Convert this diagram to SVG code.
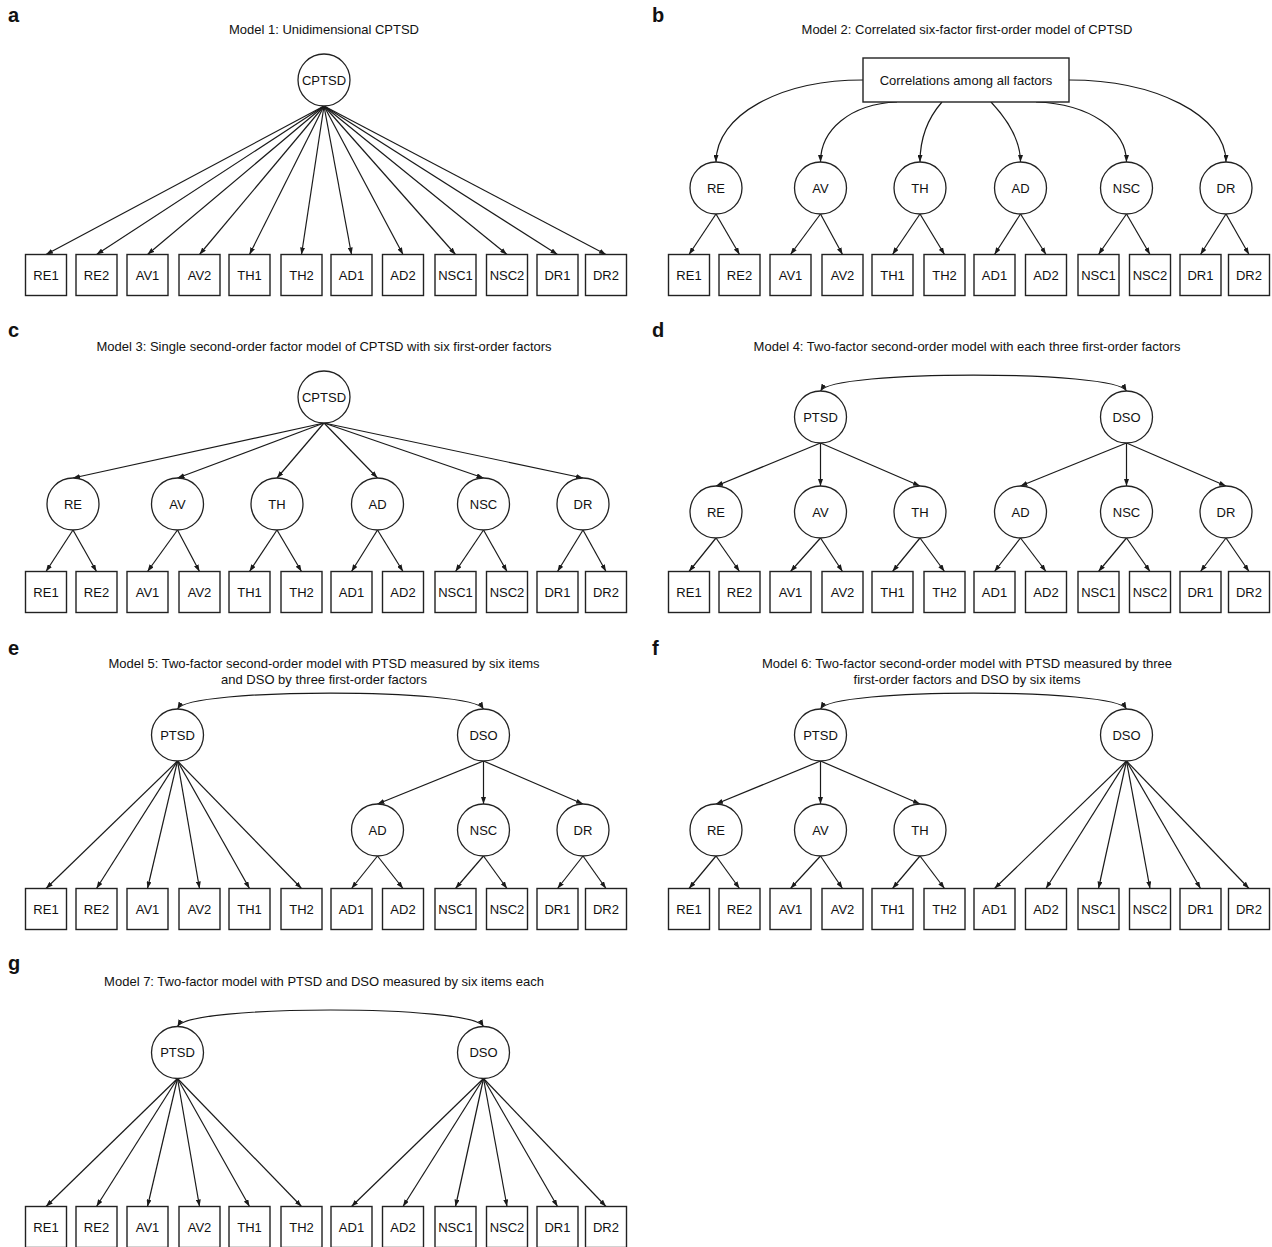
<svg xmlns="http://www.w3.org/2000/svg" width="1272" height="1247" viewBox="0 0 1272 1247">
<style>
.t{font-family:"Liberation Sans",Arial,sans-serif;font-size:13px;fill:#111;text-anchor:middle}
.lab{font-family:"Liberation Sans",Arial,sans-serif;font-size:20px;font-weight:bold;fill:#111}
.bx{fill:#fff;stroke:#222;stroke-width:1.4}
.lv{fill:#fff;stroke:#222;stroke-width:1.3}
.c{fill:none;stroke:#1a1a1a;stroke-width:1.2;marker-end:url(#ah)}
.cv{fill:none;stroke:#1a1a1a;stroke-width:1.2;marker-start:url(#ah);marker-end:url(#ah)}
</style>
<defs>
<marker id="ah" viewBox="0 0 7 5" refX="7" refY="2.5" markerWidth="7" markerHeight="5" markerUnits="userSpaceOnUse" orient="auto-start-reverse"><path d="M0,0 L7,2.5 L0,5 z" fill="#1a1a1a"/></marker>
</defs>
<rect width="1272" height="1247" fill="#fff"/>

<g id="labels">
<text class="lab" x="8" y="22">a</text>
<text class="lab" x="652" y="22">b</text>
<text class="lab" x="8" y="337">c</text>
<text class="lab" x="652" y="337">d</text>
<text class="lab" x="8" y="655">e</text>
<text class="lab" x="652" y="655">f</text>
<text class="lab" x="8" y="970">g</text>
</g>
<g id="titles">
<text class="t" x="324" y="34">Model 1: Unidimensional CPTSD</text>
<text class="t" x="967" y="34">Model 2: Correlated six-factor first-order model of CPTSD</text>
<text class="t" x="324" y="350.6">Model 3: Single second-order factor model of CPTSD with six first-order factors</text>
<text class="t" x="967" y="350.6">Model 4: Two-factor second-order model with each three first-order factors</text>
<text class="t" x="324" y="668">Model 5: Two-factor second-order model with PTSD measured by six items</text>
<text class="t" x="324" y="684">and DSO by three first-order factors</text>
<text class="t" x="967" y="668">Model 6: Two-factor second-order model with PTSD measured by three</text>
<text class="t" x="967" y="684">first-order factors and DSO by six items</text>
<text class="t" x="324" y="985.6">Model 7: Two-factor model with PTSD and DSO measured by six items each</text>
</g>

<g id="connectors">
<!-- a -->
<path class="c" d="M324,106 L46,254.5"/><path class="c" d="M324,106 L96.5,254.5"/><path class="c" d="M324,106 L147.5,254.5"/><path class="c" d="M324,106 L199.5,254.5"/><path class="c" d="M324,106 L249.5,254.5"/><path class="c" d="M324,106 L301.5,254.5"/><path class="c" d="M324,106 L351.5,254.5"/><path class="c" d="M324,106 L403,254.5"/><path class="c" d="M324,106 L455.5,254.5"/><path class="c" d="M324,106 L507,254.5"/><path class="c" d="M324,106 L557.5,254.5"/><path class="c" d="M324,106 L606,254.5"/>
<!-- b -->
<path class="c" d="M863,80 C780,80 716,115 716,162"/>
<path class="c" d="M897,102 C850,104 820.5,130 820.5,162"/>
<path class="c" d="M942,102 C928,118 920,138 920,162"/>
<path class="c" d="M991,102 C1006,118 1020.5,138 1020.5,162"/>
<path class="c" d="M1036,102 C1090,104 1126.5,130 1126.5,162"/>
<path class="c" d="M1069,80 C1155,80 1226,115 1226,162"/>
<path class="c" d="M716,214 L689,254.5"/><path class="c" d="M716,214 L739.5,254.5"/>
<path class="c" d="M820.5,214 L790.5,254.5"/><path class="c" d="M820.5,214 L842.5,254.5"/>
<path class="c" d="M920,214 L892.5,254.5"/><path class="c" d="M920,214 L944.5,254.5"/>
<path class="c" d="M1020.5,214 L994.5,254.5"/><path class="c" d="M1020.5,214 L1046,254.5"/>
<path class="c" d="M1126.5,214 L1098.5,254.5"/><path class="c" d="M1126.5,214 L1150,254.5"/>
<path class="c" d="M1226,214 L1200.5,254.5"/><path class="c" d="M1226,214 L1249,254.5"/>
<!-- c -->
<path class="c" d="M324,423 L73,478"/><path class="c" d="M324,423 L177.5,478"/><path class="c" d="M324,423 L277,478"/><path class="c" d="M324,423 L377.5,478"/><path class="c" d="M324,423 L483.5,478"/><path class="c" d="M324,423 L583,478"/>
<path class="c" d="M73,530 L46,571.5"/><path class="c" d="M73,530 L96.5,571.5"/>
<path class="c" d="M177.5,530 L147.5,571.5"/><path class="c" d="M177.5,530 L199.5,571.5"/>
<path class="c" d="M277,530 L249.5,571.5"/><path class="c" d="M277,530 L301.5,571.5"/>
<path class="c" d="M377.5,530 L351.5,571.5"/><path class="c" d="M377.5,530 L403,571.5"/>
<path class="c" d="M483.5,530 L455.5,571.5"/><path class="c" d="M483.5,530 L507,571.5"/>
<path class="c" d="M583,530 L557.5,571.5"/><path class="c" d="M583,530 L606,571.5"/>
<!-- d -->
<path class="cv" d="M820.5,391 C832,369.7 1115,369.7 1126.5,391"/>
<path class="c" d="M820.5,443 L716,486"/><path class="c" d="M820.5,443 L820.5,486"/><path class="c" d="M820.5,443 L920,486"/>
<path class="c" d="M1126.5,443 L1020.5,486"/><path class="c" d="M1126.5,443 L1126.5,486"/><path class="c" d="M1126.5,443 L1226,486"/>
<path class="c" d="M716,538 L689,571.5"/><path class="c" d="M716,538 L739.5,571.5"/>
<path class="c" d="M820.5,538 L790.5,571.5"/><path class="c" d="M820.5,538 L842.5,571.5"/>
<path class="c" d="M920,538 L892.5,571.5"/><path class="c" d="M920,538 L944.5,571.5"/>
<path class="c" d="M1020.5,538 L994.5,571.5"/><path class="c" d="M1020.5,538 L1046,571.5"/>
<path class="c" d="M1126.5,538 L1098.5,571.5"/><path class="c" d="M1126.5,538 L1150,571.5"/>
<path class="c" d="M1226,538 L1200.5,571.5"/><path class="c" d="M1226,538 L1249,571.5"/>
<!-- e -->
<path class="cv" d="M177.5,709 C189,687.7 472,687.7 483.5,709"/>
<path class="c" d="M177.5,761 L46,888.5"/><path class="c" d="M177.5,761 L96.5,888.5"/><path class="c" d="M177.5,761 L147.5,888.5"/><path class="c" d="M177.5,761 L199.5,888.5"/><path class="c" d="M177.5,761 L249.5,888.5"/><path class="c" d="M177.5,761 L301.5,888.5"/>
<path class="c" d="M483.5,761 L377.5,804"/><path class="c" d="M483.5,761 L483.5,804"/><path class="c" d="M483.5,761 L583,804"/>
<path class="c" d="M377.5,856 L351.5,888.5"/><path class="c" d="M377.5,856 L403,888.5"/>
<path class="c" d="M483.5,856 L455.5,888.5"/><path class="c" d="M483.5,856 L507,888.5"/>
<path class="c" d="M583,856 L557.5,888.5"/><path class="c" d="M583,856 L606,888.5"/>
<!-- f -->
<path class="cv" d="M820.5,709 C832,687.7 1115,687.7 1126.5,709"/>
<path class="c" d="M820.5,761 L716,804"/><path class="c" d="M820.5,761 L820.5,804"/><path class="c" d="M820.5,761 L920,804"/>
<path class="c" d="M716,856 L689,888.5"/><path class="c" d="M716,856 L739.5,888.5"/>
<path class="c" d="M820.5,856 L790.5,888.5"/><path class="c" d="M820.5,856 L842.5,888.5"/>
<path class="c" d="M920,856 L892.5,888.5"/><path class="c" d="M920,856 L944.5,888.5"/>
<path class="c" d="M1126.5,761 L994.5,888.5"/><path class="c" d="M1126.5,761 L1046,888.5"/><path class="c" d="M1126.5,761 L1098.5,888.5"/><path class="c" d="M1126.5,761 L1150,888.5"/><path class="c" d="M1126.5,761 L1200.5,888.5"/><path class="c" d="M1126.5,761 L1249,888.5"/>
<!-- g -->
<path class="cv" d="M177.5,1026.5 C189,1004.5 472,1004.5 483.5,1026.5"/>
<path class="c" d="M177.5,1078.5 L46,1206.5"/><path class="c" d="M177.5,1078.5 L96.5,1206.5"/><path class="c" d="M177.5,1078.5 L147.5,1206.5"/><path class="c" d="M177.5,1078.5 L199.5,1206.5"/><path class="c" d="M177.5,1078.5 L249.5,1206.5"/><path class="c" d="M177.5,1078.5 L301.5,1206.5"/>
<path class="c" d="M483.5,1078.5 L351.5,1206.5"/><path class="c" d="M483.5,1078.5 L403,1206.5"/><path class="c" d="M483.5,1078.5 L455.5,1206.5"/><path class="c" d="M483.5,1078.5 L507,1206.5"/><path class="c" d="M483.5,1078.5 L557.5,1206.5"/><path class="c" d="M483.5,1078.5 L606,1206.5"/>
</g>

<!-- Panel a -->
<g id="a-CPTSD"><circle class="lv" cx="324" cy="80" r="26"/><text class="t" x="324" y="84.6">CPTSD</text></g>
<g id="a-RE1"><rect class="bx" x="25.5" y="254.5" width="41" height="41"/><text class="t" x="46" y="279.6">RE1</text></g>
<g id="a-RE2"><rect class="bx" x="76" y="254.5" width="41" height="41"/><text class="t" x="96.5" y="279.6">RE2</text></g>
<g id="a-AV1"><rect class="bx" x="127" y="254.5" width="41" height="41"/><text class="t" x="147.5" y="279.6">AV1</text></g>
<g id="a-AV2"><rect class="bx" x="179" y="254.5" width="41" height="41"/><text class="t" x="199.5" y="279.6">AV2</text></g>
<g id="a-TH1"><rect class="bx" x="229" y="254.5" width="41" height="41"/><text class="t" x="249.5" y="279.6">TH1</text></g>
<g id="a-TH2"><rect class="bx" x="281" y="254.5" width="41" height="41"/><text class="t" x="301.5" y="279.6">TH2</text></g>
<g id="a-AD1"><rect class="bx" x="331" y="254.5" width="41" height="41"/><text class="t" x="351.5" y="279.6">AD1</text></g>
<g id="a-AD2"><rect class="bx" x="382.5" y="254.5" width="41" height="41"/><text class="t" x="403" y="279.6">AD2</text></g>
<g id="a-NSC1"><rect class="bx" x="435" y="254.5" width="41" height="41"/><text class="t" x="455.5" y="279.6">NSC1</text></g>
<g id="a-NSC2"><rect class="bx" x="486.5" y="254.5" width="41" height="41"/><text class="t" x="507" y="279.6">NSC2</text></g>
<g id="a-DR1"><rect class="bx" x="537" y="254.5" width="41" height="41"/><text class="t" x="557.5" y="279.6">DR1</text></g>
<g id="a-DR2"><rect class="bx" x="585.5" y="254.5" width="41" height="41"/><text class="t" x="606" y="279.6">DR2</text></g>

<!-- Panel b -->
<g id="b-CORR"><rect class="bx" x="863" y="58" width="206" height="44"/><text class="t" x="966" y="84.6">Correlations among all factors</text></g>
<g id="b-RE"><circle class="lv" cx="716" cy="188" r="26"/><text class="t" x="716" y="192.6">RE</text></g>
<g id="b-AV"><circle class="lv" cx="820.5" cy="188" r="26"/><text class="t" x="820.5" y="192.6">AV</text></g>
<g id="b-TH"><circle class="lv" cx="920" cy="188" r="26"/><text class="t" x="920" y="192.6">TH</text></g>
<g id="b-AD"><circle class="lv" cx="1020.5" cy="188" r="26"/><text class="t" x="1020.5" y="192.6">AD</text></g>
<g id="b-NSC"><circle class="lv" cx="1126.5" cy="188" r="26"/><text class="t" x="1126.5" y="192.6">NSC</text></g>
<g id="b-DR"><circle class="lv" cx="1226" cy="188" r="26"/><text class="t" x="1226" y="192.6">DR</text></g>
<g id="b-RE1"><rect class="bx" x="668.5" y="254.5" width="41" height="41"/><text class="t" x="689" y="279.6">RE1</text></g>
<g id="b-RE2"><rect class="bx" x="719" y="254.5" width="41" height="41"/><text class="t" x="739.5" y="279.6">RE2</text></g>
<g id="b-AV1"><rect class="bx" x="770" y="254.5" width="41" height="41"/><text class="t" x="790.5" y="279.6">AV1</text></g>
<g id="b-AV2"><rect class="bx" x="822" y="254.5" width="41" height="41"/><text class="t" x="842.5" y="279.6">AV2</text></g>
<g id="b-TH1"><rect class="bx" x="872" y="254.5" width="41" height="41"/><text class="t" x="892.5" y="279.6">TH1</text></g>
<g id="b-TH2"><rect class="bx" x="924" y="254.5" width="41" height="41"/><text class="t" x="944.5" y="279.6">TH2</text></g>
<g id="b-AD1"><rect class="bx" x="974" y="254.5" width="41" height="41"/><text class="t" x="994.5" y="279.6">AD1</text></g>
<g id="b-AD2"><rect class="bx" x="1025.5" y="254.5" width="41" height="41"/><text class="t" x="1046" y="279.6">AD2</text></g>
<g id="b-NSC1"><rect class="bx" x="1078" y="254.5" width="41" height="41"/><text class="t" x="1098.5" y="279.6">NSC1</text></g>
<g id="b-NSC2"><rect class="bx" x="1129.5" y="254.5" width="41" height="41"/><text class="t" x="1150" y="279.6">NSC2</text></g>
<g id="b-DR1"><rect class="bx" x="1180" y="254.5" width="41" height="41"/><text class="t" x="1200.5" y="279.6">DR1</text></g>
<g id="b-DR2"><rect class="bx" x="1228.5" y="254.5" width="41" height="41"/><text class="t" x="1249" y="279.6">DR2</text></g>

<!-- Panel c -->
<g id="c-CPTSD"><circle class="lv" cx="324" cy="397" r="26"/><text class="t" x="324" y="401.6">CPTSD</text></g>
<g id="c-RE"><circle class="lv" cx="73" cy="504" r="26"/><text class="t" x="73" y="508.6">RE</text></g>
<g id="c-AV"><circle class="lv" cx="177.5" cy="504" r="26"/><text class="t" x="177.5" y="508.6">AV</text></g>
<g id="c-TH"><circle class="lv" cx="277" cy="504" r="26"/><text class="t" x="277" y="508.6">TH</text></g>
<g id="c-AD"><circle class="lv" cx="377.5" cy="504" r="26"/><text class="t" x="377.5" y="508.6">AD</text></g>
<g id="c-NSC"><circle class="lv" cx="483.5" cy="504" r="26"/><text class="t" x="483.5" y="508.6">NSC</text></g>
<g id="c-DR"><circle class="lv" cx="583" cy="504" r="26"/><text class="t" x="583" y="508.6">DR</text></g>
<g id="c-RE1"><rect class="bx" x="25.5" y="571.5" width="41" height="41"/><text class="t" x="46" y="596.6">RE1</text></g>
<g id="c-RE2"><rect class="bx" x="76" y="571.5" width="41" height="41"/><text class="t" x="96.5" y="596.6">RE2</text></g>
<g id="c-AV1"><rect class="bx" x="127" y="571.5" width="41" height="41"/><text class="t" x="147.5" y="596.6">AV1</text></g>
<g id="c-AV2"><rect class="bx" x="179" y="571.5" width="41" height="41"/><text class="t" x="199.5" y="596.6">AV2</text></g>
<g id="c-TH1"><rect class="bx" x="229" y="571.5" width="41" height="41"/><text class="t" x="249.5" y="596.6">TH1</text></g>
<g id="c-TH2"><rect class="bx" x="281" y="571.5" width="41" height="41"/><text class="t" x="301.5" y="596.6">TH2</text></g>
<g id="c-AD1"><rect class="bx" x="331" y="571.5" width="41" height="41"/><text class="t" x="351.5" y="596.6">AD1</text></g>
<g id="c-AD2"><rect class="bx" x="382.5" y="571.5" width="41" height="41"/><text class="t" x="403" y="596.6">AD2</text></g>
<g id="c-NSC1"><rect class="bx" x="435" y="571.5" width="41" height="41"/><text class="t" x="455.5" y="596.6">NSC1</text></g>
<g id="c-NSC2"><rect class="bx" x="486.5" y="571.5" width="41" height="41"/><text class="t" x="507" y="596.6">NSC2</text></g>
<g id="c-DR1"><rect class="bx" x="537" y="571.5" width="41" height="41"/><text class="t" x="557.5" y="596.6">DR1</text></g>
<g id="c-DR2"><rect class="bx" x="585.5" y="571.5" width="41" height="41"/><text class="t" x="606" y="596.6">DR2</text></g>

<!-- Panel d -->
<g id="d-PTSD"><circle class="lv" cx="820.5" cy="417" r="26"/><text class="t" x="820.5" y="421.6">PTSD</text></g>
<g id="d-DSO"><circle class="lv" cx="1126.5" cy="417" r="26"/><text class="t" x="1126.5" y="421.6">DSO</text></g>
<g id="d-RE"><circle class="lv" cx="716" cy="512" r="26"/><text class="t" x="716" y="516.6">RE</text></g>
<g id="d-AV"><circle class="lv" cx="820.5" cy="512" r="26"/><text class="t" x="820.5" y="516.6">AV</text></g>
<g id="d-TH"><circle class="lv" cx="920" cy="512" r="26"/><text class="t" x="920" y="516.6">TH</text></g>
<g id="d-AD"><circle class="lv" cx="1020.5" cy="512" r="26"/><text class="t" x="1020.5" y="516.6">AD</text></g>
<g id="d-NSC"><circle class="lv" cx="1126.5" cy="512" r="26"/><text class="t" x="1126.5" y="516.6">NSC</text></g>
<g id="d-DR"><circle class="lv" cx="1226" cy="512" r="26"/><text class="t" x="1226" y="516.6">DR</text></g>
<g id="d-RE1"><rect class="bx" x="668.5" y="571.5" width="41" height="41"/><text class="t" x="689" y="596.6">RE1</text></g>
<g id="d-RE2"><rect class="bx" x="719" y="571.5" width="41" height="41"/><text class="t" x="739.5" y="596.6">RE2</text></g>
<g id="d-AV1"><rect class="bx" x="770" y="571.5" width="41" height="41"/><text class="t" x="790.5" y="596.6">AV1</text></g>
<g id="d-AV2"><rect class="bx" x="822" y="571.5" width="41" height="41"/><text class="t" x="842.5" y="596.6">AV2</text></g>
<g id="d-TH1"><rect class="bx" x="872" y="571.5" width="41" height="41"/><text class="t" x="892.5" y="596.6">TH1</text></g>
<g id="d-TH2"><rect class="bx" x="924" y="571.5" width="41" height="41"/><text class="t" x="944.5" y="596.6">TH2</text></g>
<g id="d-AD1"><rect class="bx" x="974" y="571.5" width="41" height="41"/><text class="t" x="994.5" y="596.6">AD1</text></g>
<g id="d-AD2"><rect class="bx" x="1025.5" y="571.5" width="41" height="41"/><text class="t" x="1046" y="596.6">AD2</text></g>
<g id="d-NSC1"><rect class="bx" x="1078" y="571.5" width="41" height="41"/><text class="t" x="1098.5" y="596.6">NSC1</text></g>
<g id="d-NSC2"><rect class="bx" x="1129.5" y="571.5" width="41" height="41"/><text class="t" x="1150" y="596.6">NSC2</text></g>
<g id="d-DR1"><rect class="bx" x="1180" y="571.5" width="41" height="41"/><text class="t" x="1200.5" y="596.6">DR1</text></g>
<g id="d-DR2"><rect class="bx" x="1228.5" y="571.5" width="41" height="41"/><text class="t" x="1249" y="596.6">DR2</text></g>

<!-- Panel e -->
<g id="e-PTSD"><circle class="lv" cx="177.5" cy="735" r="26"/><text class="t" x="177.5" y="739.6">PTSD</text></g>
<g id="e-DSO"><circle class="lv" cx="483.5" cy="735" r="26"/><text class="t" x="483.5" y="739.6">DSO</text></g>
<g id="e-AD"><circle class="lv" cx="377.5" cy="830" r="26"/><text class="t" x="377.5" y="834.6">AD</text></g>
<g id="e-NSC"><circle class="lv" cx="483.5" cy="830" r="26"/><text class="t" x="483.5" y="834.6">NSC</text></g>
<g id="e-DR"><circle class="lv" cx="583" cy="830" r="26"/><text class="t" x="583" y="834.6">DR</text></g>
<g id="e-RE1"><rect class="bx" x="25.5" y="888.5" width="41" height="41"/><text class="t" x="46" y="913.6">RE1</text></g>
<g id="e-RE2"><rect class="bx" x="76" y="888.5" width="41" height="41"/><text class="t" x="96.5" y="913.6">RE2</text></g>
<g id="e-AV1"><rect class="bx" x="127" y="888.5" width="41" height="41"/><text class="t" x="147.5" y="913.6">AV1</text></g>
<g id="e-AV2"><rect class="bx" x="179" y="888.5" width="41" height="41"/><text class="t" x="199.5" y="913.6">AV2</text></g>
<g id="e-TH1"><rect class="bx" x="229" y="888.5" width="41" height="41"/><text class="t" x="249.5" y="913.6">TH1</text></g>
<g id="e-TH2"><rect class="bx" x="281" y="888.5" width="41" height="41"/><text class="t" x="301.5" y="913.6">TH2</text></g>
<g id="e-AD1"><rect class="bx" x="331" y="888.5" width="41" height="41"/><text class="t" x="351.5" y="913.6">AD1</text></g>
<g id="e-AD2"><rect class="bx" x="382.5" y="888.5" width="41" height="41"/><text class="t" x="403" y="913.6">AD2</text></g>
<g id="e-NSC1"><rect class="bx" x="435" y="888.5" width="41" height="41"/><text class="t" x="455.5" y="913.6">NSC1</text></g>
<g id="e-NSC2"><rect class="bx" x="486.5" y="888.5" width="41" height="41"/><text class="t" x="507" y="913.6">NSC2</text></g>
<g id="e-DR1"><rect class="bx" x="537" y="888.5" width="41" height="41"/><text class="t" x="557.5" y="913.6">DR1</text></g>
<g id="e-DR2"><rect class="bx" x="585.5" y="888.5" width="41" height="41"/><text class="t" x="606" y="913.6">DR2</text></g>

<!-- Panel f -->
<g id="f-PTSD"><circle class="lv" cx="820.5" cy="735" r="26"/><text class="t" x="820.5" y="739.6">PTSD</text></g>
<g id="f-DSO"><circle class="lv" cx="1126.5" cy="735" r="26"/><text class="t" x="1126.5" y="739.6">DSO</text></g>
<g id="f-RE"><circle class="lv" cx="716" cy="830" r="26"/><text class="t" x="716" y="834.6">RE</text></g>
<g id="f-AV"><circle class="lv" cx="820.5" cy="830" r="26"/><text class="t" x="820.5" y="834.6">AV</text></g>
<g id="f-TH"><circle class="lv" cx="920" cy="830" r="26"/><text class="t" x="920" y="834.6">TH</text></g>
<g id="f-RE1"><rect class="bx" x="668.5" y="888.5" width="41" height="41"/><text class="t" x="689" y="913.6">RE1</text></g>
<g id="f-RE2"><rect class="bx" x="719" y="888.5" width="41" height="41"/><text class="t" x="739.5" y="913.6">RE2</text></g>
<g id="f-AV1"><rect class="bx" x="770" y="888.5" width="41" height="41"/><text class="t" x="790.5" y="913.6">AV1</text></g>
<g id="f-AV2"><rect class="bx" x="822" y="888.5" width="41" height="41"/><text class="t" x="842.5" y="913.6">AV2</text></g>
<g id="f-TH1"><rect class="bx" x="872" y="888.5" width="41" height="41"/><text class="t" x="892.5" y="913.6">TH1</text></g>
<g id="f-TH2"><rect class="bx" x="924" y="888.5" width="41" height="41"/><text class="t" x="944.5" y="913.6">TH2</text></g>
<g id="f-AD1"><rect class="bx" x="974" y="888.5" width="41" height="41"/><text class="t" x="994.5" y="913.6">AD1</text></g>
<g id="f-AD2"><rect class="bx" x="1025.5" y="888.5" width="41" height="41"/><text class="t" x="1046" y="913.6">AD2</text></g>
<g id="f-NSC1"><rect class="bx" x="1078" y="888.5" width="41" height="41"/><text class="t" x="1098.5" y="913.6">NSC1</text></g>
<g id="f-NSC2"><rect class="bx" x="1129.5" y="888.5" width="41" height="41"/><text class="t" x="1150" y="913.6">NSC2</text></g>
<g id="f-DR1"><rect class="bx" x="1180" y="888.5" width="41" height="41"/><text class="t" x="1200.5" y="913.6">DR1</text></g>
<g id="f-DR2"><rect class="bx" x="1228.5" y="888.5" width="41" height="41"/><text class="t" x="1249" y="913.6">DR2</text></g>

<!-- Panel g -->
<g id="g-PTSD"><circle class="lv" cx="177.5" cy="1052.5" r="26"/><text class="t" x="177.5" y="1057.1">PTSD</text></g>
<g id="g-DSO"><circle class="lv" cx="483.5" cy="1052.5" r="26"/><text class="t" x="483.5" y="1057.1">DSO</text></g>
<g id="g-RE1"><rect class="bx" x="25.5" y="1206.5" width="41" height="41"/><text class="t" x="46" y="1231.6">RE1</text></g>
<g id="g-RE2"><rect class="bx" x="76" y="1206.5" width="41" height="41"/><text class="t" x="96.5" y="1231.6">RE2</text></g>
<g id="g-AV1"><rect class="bx" x="127" y="1206.5" width="41" height="41"/><text class="t" x="147.5" y="1231.6">AV1</text></g>
<g id="g-AV2"><rect class="bx" x="179" y="1206.5" width="41" height="41"/><text class="t" x="199.5" y="1231.6">AV2</text></g>
<g id="g-TH1"><rect class="bx" x="229" y="1206.5" width="41" height="41"/><text class="t" x="249.5" y="1231.6">TH1</text></g>
<g id="g-TH2"><rect class="bx" x="281" y="1206.5" width="41" height="41"/><text class="t" x="301.5" y="1231.6">TH2</text></g>
<g id="g-AD1"><rect class="bx" x="331" y="1206.5" width="41" height="41"/><text class="t" x="351.5" y="1231.6">AD1</text></g>
<g id="g-AD2"><rect class="bx" x="382.5" y="1206.5" width="41" height="41"/><text class="t" x="403" y="1231.6">AD2</text></g>
<g id="g-NSC1"><rect class="bx" x="435" y="1206.5" width="41" height="41"/><text class="t" x="455.5" y="1231.6">NSC1</text></g>
<g id="g-NSC2"><rect class="bx" x="486.5" y="1206.5" width="41" height="41"/><text class="t" x="507" y="1231.6">NSC2</text></g>
<g id="g-DR1"><rect class="bx" x="537" y="1206.5" width="41" height="41"/><text class="t" x="557.5" y="1231.6">DR1</text></g>
<g id="g-DR2"><rect class="bx" x="585.5" y="1206.5" width="41" height="41"/><text class="t" x="606" y="1231.6">DR2</text></g>
</svg>
